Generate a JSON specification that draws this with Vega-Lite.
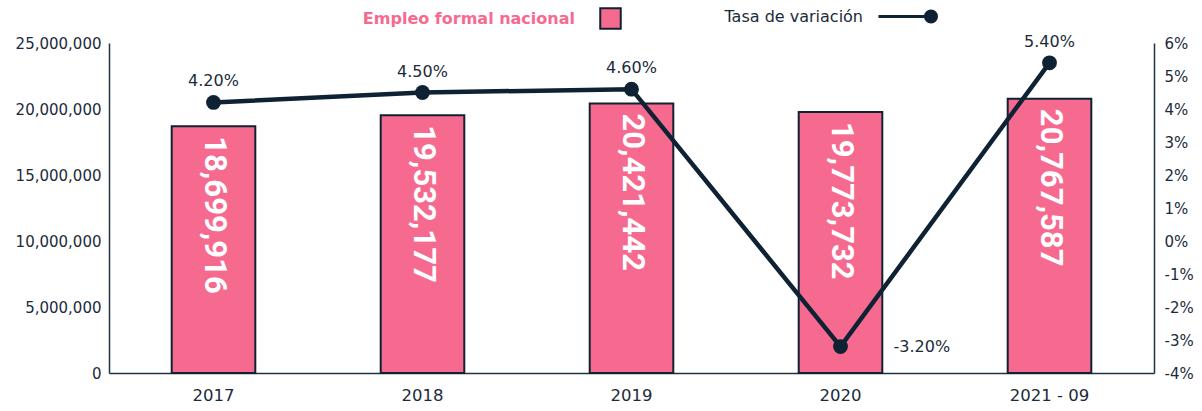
{
  "$schema": "https://vega.github.io/schema/vega-lite/v6.json",
  "width": 1045,
  "height": 330,
  "autosize": {"type": "none"},
  "padding": {"left": 109, "top": 43, "right": 48, "bottom": 38},
  "background": "white",
  "config": {
    "view": {"stroke": null},
    "font": "DejaVu Sans",
    "axis": {"grid": false, "ticks": false, "title": null, "domainColor": "#1F3344", "domainWidth": 1.5, "labelColor": "#1B2B3A", "labelFont": "DejaVu Sans"}
  },
  "data": {
    "values": [
      {"periodo": "2017", "empleo": 18699916, "tasa": 4.2},
      {"periodo": "2018", "empleo": 19532177, "tasa": 4.5},
      {"periodo": "2019", "empleo": 20421442, "tasa": 4.6},
      {"periodo": "2020", "empleo": 19773732, "tasa": -3.2},
      {"periodo": "2021 - 09", "empleo": 20767587, "tasa": 5.4}
    ]
  },
  "encoding": {
    "x": {
      "field": "periodo",
      "type": "nominal",
      "sort": null,
      "scale": {"paddingInner": 0.6, "paddingOuter": 0.3},
      "axis": {"labelAngle": 0, "labelPadding": 14, "labelFontSize": 16.5}
    }
  },
  "layer": [
    {
      "encoding": {
        "y": {
          "field": "empleo",
          "type": "quantitative",
          "scale": {"domain": [0, 25000000], "nice": false},
          "axis": {"orient": "left", "values": [0, 5000000, 10000000, 15000000, 20000000, 25000000], "labelExpr": "format(datum.value, ',')", "labelFontSize": 15, "labelPadding": 8}
        }
      },
      "layer": [
        {
          "mark": {"type": "bar", "stroke": "#0E2233", "strokeWidth": 2},
          "encoding": {
            "fill": {
              "datum": "Empleo formal nacional",
              "type": "nominal",
              "scale": {"range": ["#F76A90"]},
              "legend": {
                "title": null,
                "orient": "none",
                "legendX": 490,
                "legendY": -36,
                "padding": 0,
                "symbolType": "square",
                "symbolSize": 420,
                "symbolStrokeColor": "#0E2233",
                "symbolStrokeWidth": 2,
                "symbolFillColor": "#F76A90",
                "labelAlign": "right",
                "labelOffset": -47,
                "labelFont": "DejaVu Sans",
                "labelFontWeight": "bold",
                "labelFontSize": 16,
                "labelColor": "#F76A90",
                "labelLimit": 400
              }
            }
          }
        },
        {
          "mark": {"type": "text", "angle": 90, "align": "left", "baseline": "middle", "dx": 10, "font": "Roboto", "fontWeight": "bold", "fontSize": 31, "color": "white"},
          "encoding": {"text": {"field": "empleo", "type": "quantitative", "format": ","}}
        }
      ]
    },
    {
      "transform": [
        {"calculate": "replace(format(datum.tasa, '.2f'), '\u2212', '-') + '%'", "as": "lbl"}
      ],
      "encoding": {
        "y": {
          "field": "tasa",
          "type": "quantitative",
          "scale": {"domain": [-4, 6], "nice": false},
          "axis": {"orient": "right", "values": [-4, -3, -2, -1, 0, 1, 2, 3, 4, 5, 6], "labelExpr": "datum.value + '%'", "labelFontSize": 15, "labelPadding": 10}
        }
      },
      "layer": [
        {
          "mark": {"type": "line", "strokeWidth": 4.5},
          "encoding": {
            "stroke": {
              "datum": "Tasa de variación",
              "type": "nominal",
              "scale": {"range": ["#0E2233"]},
              "legend": {
                "title": null,
                "orient": "none",
                "legendX": 768,
                "legendY": -57,
                "padding": 0,
                "symbolType": "M-1,0L0.81,0M1,0A0.19,0.19,0,1,1,0.62,0A0.19,0.19,0,1,1,1,0Z",
                "symbolSize": 3364,
                "symbolStrokeColor": "#0E2233",
                "symbolFillColor": "#0E2233",
                "symbolStrokeWidth": 3,
                "labelAlign": "right",
                "labelOffset": -75,
                "labelFont": "DejaVu Sans",
                "labelFontSize": 16,
                "labelColor": "#1B2B3A",
                "labelLimit": 400
              }
            }
          }
        },
        {
          "mark": {"type": "point", "filled": true, "size": 220, "color": "#0E2233", "opacity": 1}
        },
        {
          "transform": [{"filter": "datum.tasa >= 0"}],
          "mark": {"type": "text", "align": "center", "baseline": "middle", "dy": -21, "fontSize": 16, "color": "#1B2B3A"},
          "encoding": {"text": {"field": "lbl", "type": "nominal"}}
        },
        {
          "transform": [{"filter": "datum.tasa < 0"}],
          "mark": {"type": "text", "align": "left", "baseline": "middle", "dx": 53, "fontSize": 16, "color": "#1B2B3A"},
          "encoding": {"text": {"field": "lbl", "type": "nominal"}}
        }
      ]
    }
  ],
  "resolve": {"scale": {"y": "independent", "fill": "independent", "stroke": "independent"}}
}
